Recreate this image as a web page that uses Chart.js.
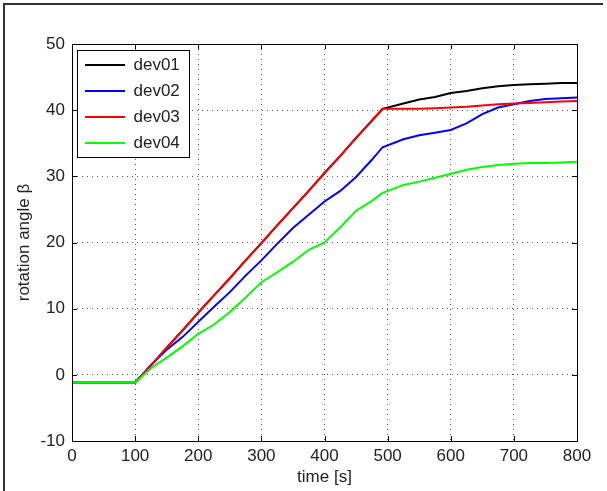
<!DOCTYPE html>
<html>
<head>
<meta charset="utf-8">
<script src="https://cdn.jsdelivr.net/npm/chart.js@4.4.0/dist/chart.umd.min.js"></script>
<style>
  html, body { margin: 0; padding: 0; background: #fff; }
  #wrap { width: 607px; height: 491px; position: relative; }
</style>
</head>
<body>
<div id="wrap"><canvas id="grafico"></canvas></div>
<script>
// tiempo en segundos (eje x)
const tiempos = [0, 100, 125, 150, 175, 200, 225, 250, 275, 300, 325, 350, 375, 400, 425,
  450, 475, 492, 525, 550, 575, 600, 625, 650, 675, 700, 725, 750, 775, 800];

const dev01 = [-1.2, -1.2, 1.4, 4.1, 6.7, 9.4, 12.0, 14.6, 17.3, 19.9, 22.6, 25.2, 27.8, 30.5, 33.1,
  35.8, 38.4, 40.2, 41.0, 41.6, 42.0, 42.6, 42.9, 43.3, 43.6, 43.8, 43.9, 44.0, 44.1, 44.1];
const dev02 = [-1.2, -1.2, 1.5, 3.8, 5.7, 8.0, 10.3, 12.5, 15.0, 17.3, 19.8, 22.2, 24.2, 26.2, 27.8,
  29.9, 32.5, 34.4, 35.6, 36.2, 36.6, 37.0, 38.0, 39.4, 40.4, 40.9, 41.4, 41.7, 41.8, 41.9];
const dev03 = [-1.2, -1.2, 1.4, 4.1, 6.7, 9.4, 12.0, 14.6, 17.3, 19.9, 22.6, 25.2, 27.8, 30.5, 33.1,
  35.8, 38.4, 40.2, 40.2, 40.2, 40.3, 40.4, 40.5, 40.7, 40.9, 41.0, 41.1, 41.2, 41.3, 41.4];
const dev04 = [-1.2, -1.2, 1.0, 2.6, 4.3, 6.2, 7.6, 9.5, 11.7, 14.0, 15.5, 17.1, 18.9, 20.0, 22.3,
  24.8, 26.3, 27.5, 28.7, 29.2, 29.8, 30.4, 31.0, 31.4, 31.7, 31.9, 32.0, 32.0, 32.1, 32.2];

const nombres = ['dev01', 'dev02', 'dev03', 'dev04'];
const colores = ['#000000', '#0000ff', '#ff0000', '#00ff00'];
const xTicks = [0, 100, 200, 300, 400, 500, 600, 700, 800];
const yTicks = [-10, 0, 10, 20, 30, 40, 50];

const fuente = '"Liberation Sans", Arial, sans-serif';
const textoColor = '#222';

const series = [dev01, dev02, dev03, dev04];
const datasets = series.map((valores, i) => ({
  label: nombres[i],
  data: valores.map((v, j) => ({x: tiempos[j], y: v})),
  borderColor: colores[i],
  backgroundColor: colores[i],
  borderWidth: 2,
  pointRadius: 0,
  tension: 0,
  order: series.length - i,   // como matlab: la ultima serie queda encima
}));

// marco, caja de ejes, ticks hacia adentro y caja de la leyenda
const marco = {
  id: 'marco',
  afterLayout(chart) {
    const a = chart.chartArea;
    const lg = chart.legend;
    lg.left = a.left + 4;
    lg.right = lg.left + lg.width;
    lg.top = a.top + 3.5;
    lg.bottom = a.bottom;
  },
  afterDraw(chart) {
    const ctx = chart.ctx;
    const a = chart.chartArea;
    const xs = chart.scales.x;
    const ys = chart.scales.y;
    ctx.save();

    // borde de la figura
    ctx.strokeStyle = '#333';
    ctx.lineWidth = 2;
    ctx.beginPath();
    ctx.moveTo(4, 491);
    ctx.lineTo(4, 4);
    ctx.lineTo(603, 4);
    ctx.stroke();

    // caja de ejes
    ctx.strokeStyle = '#000';
    ctx.lineWidth = 1;
    ctx.strokeRect(Math.round(a.left) + 0.5, Math.round(a.top) + 0.5,
      Math.round(a.right - a.left), Math.round(a.bottom - a.top));

    const tick = 5;
    ctx.beginPath();
    xTicks.forEach(v => {
      const px = Math.round(xs.getPixelForValue(v)) + 0.5;
      ctx.moveTo(px, a.bottom); ctx.lineTo(px, a.bottom - tick);
      ctx.moveTo(px, a.top); ctx.lineTo(px, a.top + tick);
    });
    yTicks.forEach(v => {
      const py = Math.round(ys.getPixelForValue(v)) + 0.5;
      ctx.moveTo(a.left, py); ctx.lineTo(a.left + tick, py);
      ctx.moveTo(a.right, py); ctx.lineTo(a.right - tick, py);
    });
    ctx.stroke();

    // leyenda encima de todo, con fondo blanco
    const bx = a.left + 5.5, by = a.top + 6.5, bw = 112, bh = 107;
    ctx.fillStyle = '#fff';
    ctx.fillRect(bx, by, bw, bh);
    ctx.strokeStyle = '#000';
    ctx.strokeRect(bx, by, bw, bh);
    ctx.restore();
    chart.legend.draw();
  }
};

const config = {
  type: 'line',
  data: {datasets: datasets},
  options: {
    responsive: true,
    maintainAspectRatio: false,
    animation: false,
    layout: {padding: {left: 0, top: 44, right: 30, bottom: 0}},
    plugins: {
      tooltip: {enabled: false},
      legend: {
        position: 'chartArea',
        align: 'start',
        labels: {
          boxWidth: 40,
          boxHeight: 2,
          padding: 9,
          color: textoColor,
          font: {family: fuente, size: 17},
          generateLabels: (chart) => chart.data.datasets.map((ds, i) => ({
            text: ds.label,
            fillStyle: ds.borderColor,
            strokeStyle: ds.borderColor,
            lineWidth: 0,
            fontColor: textoColor,
            hidden: false,
            datasetIndex: i,
          })),
        },
      },
    },
    scales: {
      x: {
        type: 'linear',
        min: 0,
        max: 800,
        afterFit: (s) => { s.height = 50; },
        afterBuildTicks: (s) => { s.ticks = xTicks.map(v => ({value: v})); },
        grid: {color: '#555', drawTicks: false},
        border: {display: false, dash: [1, 4]},
        ticks: {color: textoColor, padding: 5, maxRotation: 0, font: {family: fuente, size: 17}},
        title: {display: true, text: 'time [s]', color: textoColor, padding: {top: 0, bottom: 3},
          font: {family: fuente, size: 17}},
      },
      y: {
        min: -10,
        max: 50,
        afterFit: (s) => { s.width = 72; },
        afterBuildTicks: (s) => { s.ticks = yTicks.map(v => ({value: v})); },
        grid: {color: '#555', drawTicks: false},
        border: {display: false, dash: [1, 4]},
        ticks: {color: textoColor, padding: 7, font: {family: fuente, size: 17}},
        title: {display: true, text: 'rotation angle β', color: textoColor, padding: {top: 14, bottom: 0},
          font: {family: fuente, size: 17}},
      },
    },
  },
  plugins: [marco],
};

const miGrafico = new Chart(document.getElementById('grafico'), config);
</script>
</body>
</html>
